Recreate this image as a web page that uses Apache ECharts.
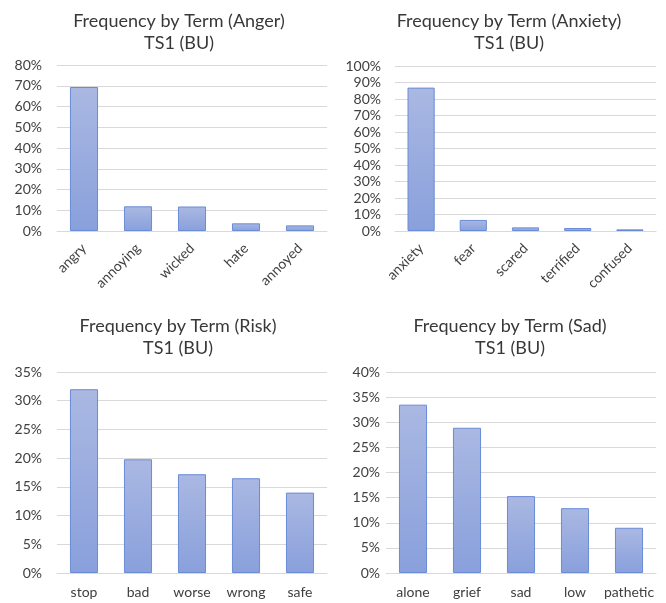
<!DOCTYPE html>
<html>
<head>
<meta charset="utf-8">
<script src="https://cdn.jsdelivr.net/npm/echarts@6/dist/echarts.min.js"></script>
<style>
  html, body { margin: 0; padding: 0; background: #fff; }
  #chart { width: 666px; height: 603px; }
</style>
</head>
<body>
<div id="chart"></div>
<script>
// Term frequencies (percent) for each emotion group, TS1 (BU)
const angerTerms = ['angry', 'annoying', 'wicked', 'hate', 'annoyed'];
const angerValues = [69.4, 11.9, 11.8, 3.7, 2.7];

const anxietyTerms = ['anxiety', 'fear', 'scared', 'terrified', 'confused'];
const anxietyValues = [86.9, 6.7, 2.2, 1.8, 1.0];

const riskTerms = ['stop', 'bad', 'worse', 'wrong', 'safe'];
const riskValues = [32.0, 19.8, 17.2, 16.5, 14.0];

const sadTerms = ['alone', 'grief', 'sad', 'low', 'pathetic'];
const sadValues = [33.5, 28.9, 15.3, 12.9, 9.0];

const titles = [
  'Frequency by Term (Anger)\nTS1 (BU)',
  'Frequency by Term (Anxiety)\nTS1 (BU)',
  'Frequency by Term (Risk)\nTS1 (BU)',
  'Frequency by Term (Sad)\nTS1 (BU)'
];

const FONT = 'Lato, "Open Sans", sans-serif';
const TEXT = '#404040';

const panels = [
  { terms: angerTerms, values: angerValues, max: 80, interval: 10, rotate: 45,
    grid: { left: 57, right: 339, top: 65, bottom: 372 }, titleX: 174, titleY: 5, ymargin: 15 },
  { terms: anxietyTerms, values: anxietyValues, max: 100, interval: 10, rotate: 45,
    grid: { left: 395, right: 10, top: 66, bottom: 372 }, titleX: 504, titleY: 5, ymargin: 14 },
  { terms: riskTerms, values: riskValues, max: 35, interval: 5, rotate: 0,
    grid: { left: 57, right: 339, top: 372, bottom: 30 }, titleX: 173, titleY: 310, ymargin: 15 },
  { terms: sadTerms, values: sadValues, max: 40, interval: 5, rotate: 0,
    grid: { left: 386, right: 10, top: 372, bottom: 30 }, titleX: 505, titleY: 310, ymargin: 6 }
];

const barFill = new echarts.graphic.LinearGradient(0, 0, 0, 1, [
  { offset: 0, color: '#aab8e2' },
  { offset: 1, color: '#89a0dc' }
]);

const option = {
  backgroundColor: '#ffffff',
  animation: false,
  title: panels.map((p, i) => ({
    text: titles[i],
    left: p.titleX,
    top: p.titleY,
    textAlign: 'center',
    textStyle: { fontFamily: FONT, fontSize: 18, fontWeight: 'normal', color: '#383838', lineHeight: 22 }
  })),
  grid: panels.map(p => p.grid),
  xAxis: panels.map((p, i) => ({
    type: 'category',
    gridIndex: i,
    data: p.terms,
    axisTick: { show: false },
    axisLine: { show: true, lineStyle: { color: '#d9d9d9', width: 1 } },
    axisLabel: {
      rotate: p.rotate,
      interval: 0,
      margin: p.rotate ? 15 : 12,
      fontFamily: FONT,
      fontSize: 14,
      color: TEXT
    }
  })),
  yAxis: panels.map((p, i) => ({
    type: 'value',
    gridIndex: i,
    min: 0,
    max: p.max,
    interval: p.interval,
    axisLine: { show: false },
    axisTick: { show: false },
    splitLine: { lineStyle: { color: '#d9d9d9', width: 1 } },
    axisLabel: {
      margin: p.ymargin,
      fontFamily: FONT,
      fontSize: 14,
      color: TEXT,
      formatter: '{value}%'
    }
  })),
  series: panels.map((p, i) => ({
    type: 'bar',
    xAxisIndex: i,
    yAxisIndex: i,
    data: p.values,
    barCategoryGap: '48%',
    itemStyle: { color: barFill, borderColor: '#6a8bd6', borderWidth: 1 }
  }))
};

echarts.init(document.getElementById('chart'), null, { renderer: 'canvas' }).setOption(option);
</script>
</body>
</html>
